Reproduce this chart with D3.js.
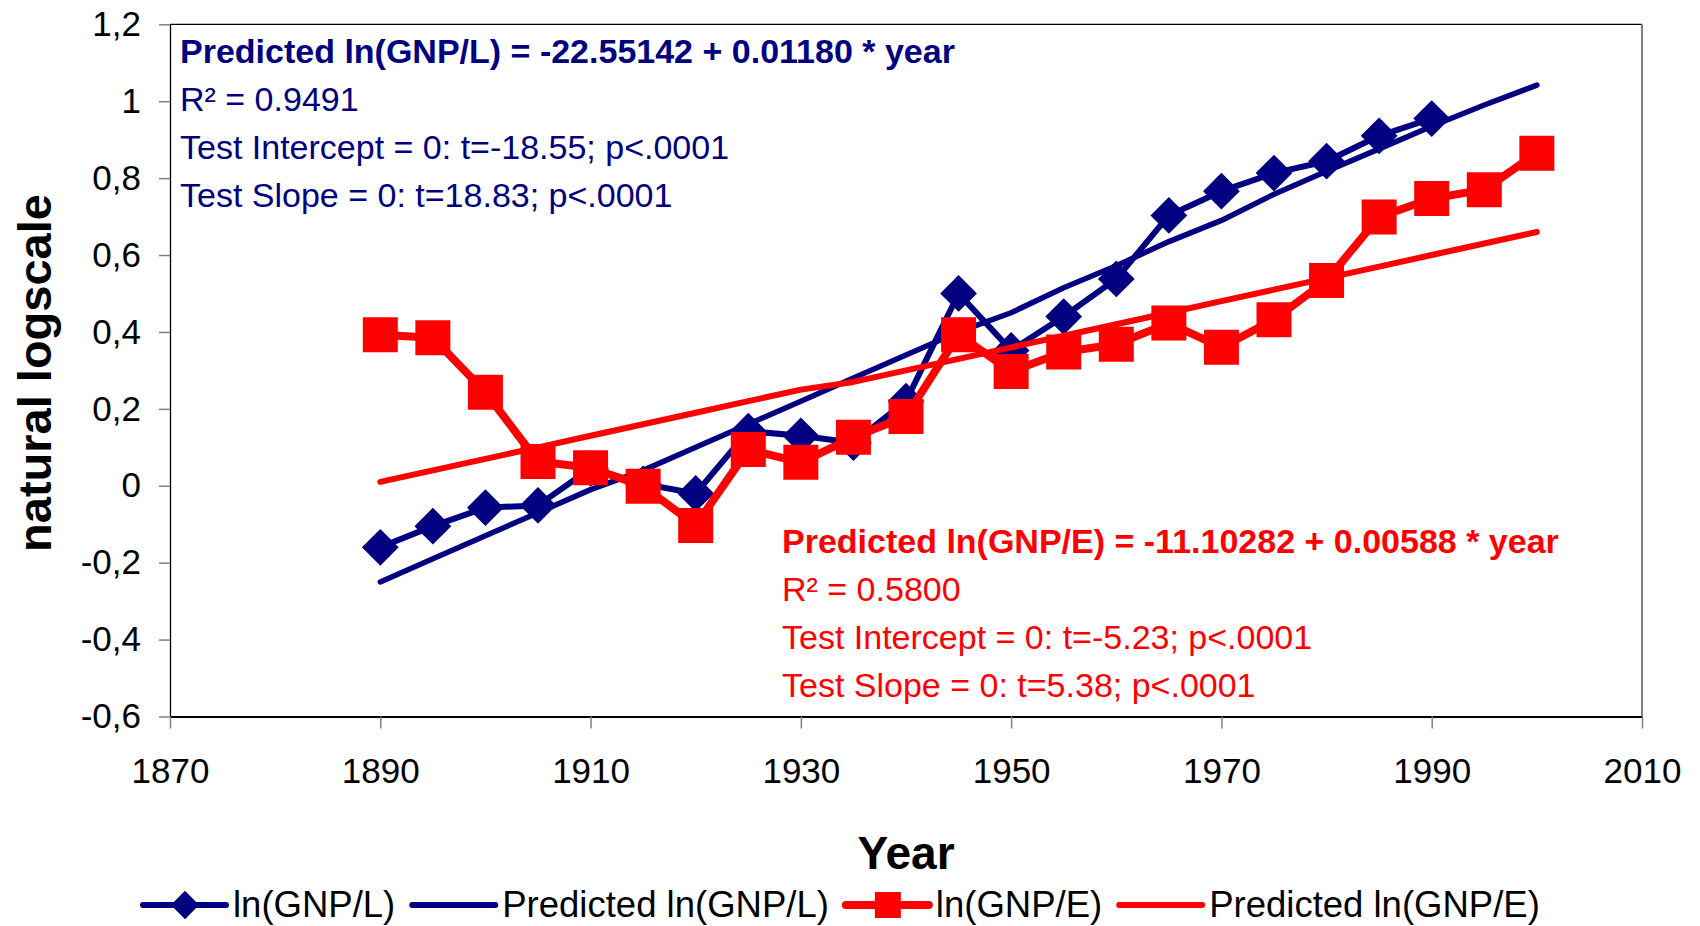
<!DOCTYPE html>
<html>
<head>
<meta charset="utf-8">
<script src="https://cdn.jsdelivr.net/npm/d3@7"></script>
<style>
  body { margin: 0; background: #fff; }
  text { font-family: "Liberation Sans", Arial, sans-serif; }
</style>
</head>
<body>
<div id="chart"></div>
<script>
// data
const years = [1890, 1895, 1900, 1905, 1910, 1915, 1920, 1925, 1930, 1935, 1940, 1945,
               1950, 1955, 1960, 1965, 1970, 1975, 1980, 1985, 1990, 1995, 2000]
const gnpL = [-0.16, -0.105, -0.057, -0.051, 0.045, 0.005, -0.02, 0.142, 0.13, 0.112, 0.22, 0.50,
              0.352, 0.44, 0.538, 0.703, 0.766, 0.813, 0.844, 0.91, 0.955]
const predGnpL = [-0.25, -0.19, -0.13, -0.07, -0.01, 0.04, 0.10, 0.16, 0.22, 0.28, 0.34, 0.40,
                  0.45, 0.515, 0.572, 0.635, 0.69, 0.758, 0.818, 0.876, 0.935, 0.99, 1.042]
const gnpE = [0.393, 0.385, 0.243, 0.063, 0.047, -0.001, -0.103, 0.094, 0.061, 0.126, 0.18, 0.393,
              0.297, 0.348, 0.368, 0.423, 0.36, 0.432, 0.534, 0.699, 0.747, 0.77, 0.865]
const predGnpE = [0.01, 0.04, 0.07, 0.10, 0.13, 0.16, 0.19, 0.22, 0.25, 0.27, 0.30, 0.33,
                  0.36, 0.39, 0.42, 0.45, 0.48, 0.51, 0.54, 0.57, 0.60, 0.63, 0.66]
const xTicks = [1870, 1890, 1910, 1930, 1950, 1970, 1990, 2010]
const yTicks = [-0.6, -0.4, -0.2, 0, 0.2, 0.4, 0.6, 0.8, 1, 1.2]
const legendLabels = ['ln(GNP/L)', 'Predicted ln(GNP/L)', 'ln(GNP/E)', 'Predicted ln(GNP/E)']
const blueNotes = ['Predicted ln(GNP/L) = -22.55142 + 0.01180 * year', 'R² = 0.9491',
                   'Test Intercept = 0: t=-18.55; p<.0001', 'Test Slope = 0: t=18.83; p<.0001']
const redNotes = ['Predicted ln(GNP/E) = -11.10282 + 0.00588 * year', 'R² = 0.5800',
                  'Test Intercept = 0: t=-5.23; p<.0001', 'Test Slope = 0: t=5.38; p<.0001']

const width = 1700
const height = 926
const plot = { left: 170, right: 1642, top: 24.3, bottom: 716.5 }
const blue = '#000080'
const red = '#ff0000'

const svg = d3.select('#chart')
    .append('svg')
    .attr('width', width)
    .attr('height', height)

const xScale = d3.scaleLinear()
    .domain([1870, 2010])
    .range([plot.left, plot.right])

const yScale = d3.scaleLinear()
    .domain([-0.6, 1.2])
    .range([plot.bottom, plot.top])

const commaFmt = d => String(+d.toFixed(1)).replace('.', ',')

// frame: top and right edges
svg.append('line')
    .attr('x1', plot.left).attr('x2', plot.right)
    .attr('y1', plot.top).attr('y2', plot.top)
    .attr('stroke', '#000').attr('stroke-width', 1.2)
svg.append('line')
    .attr('x1', plot.right).attr('x2', plot.right)
    .attr('y1', plot.top).attr('y2', plot.bottom)
    .attr('stroke', '#808080').attr('stroke-width', 2)

// axes
const yAxis = svg.append('g')
    .attr('transform', 'translate(' + plot.left + ',0)')
    .call(d3.axisLeft(yScale).tickValues(yTicks).tickFormat(commaFmt)
        .tickSize(11).tickSizeOuter(0).tickPadding(18))
yAxis.select('.domain').attr('stroke', '#000').attr('stroke-width', 1.3)
yAxis.selectAll('.tick line').attr('stroke', '#808080').attr('stroke-width', 1.5)
yAxis.selectAll('.tick text')
    .attr('font-size', 35).attr('fill', '#000')
    .style('font-family', '"Liberation Sans", Arial, sans-serif')

const xAxis = svg.append('g')
    .attr('transform', 'translate(0,' + plot.bottom + ')')
    .call(d3.axisBottom(xScale).tickValues(xTicks).tickFormat(d3.format('d'))
        .tickSize(12).tickSizeOuter(0).tickPadding(30))
xAxis.select('.domain').attr('stroke', '#000').attr('stroke-width', 2.2)
xAxis.selectAll('.tick line').attr('stroke', '#808080').attr('stroke-width', 1.5)
xAxis.selectAll('.tick text')
    .attr('font-size', 35).attr('fill', '#000')
    .style('font-family', '"Liberation Sans", Arial, sans-serif')

// axis titles
svg.append('text')
    .attr('transform', 'translate(51,373) rotate(-90)')
    .attr('text-anchor', 'middle')
    .attr('font-size', 47).attr('font-weight', 'bold')
    .text('natural logscale')
svg.append('text')
    .attr('x', 906).attr('y', 869)
    .attr('text-anchor', 'middle')
    .attr('font-size', 46).attr('font-weight', 'bold')
    .text('Year')

// series
const toPts = vals => vals.map((v, i) => ({ year: years[i], v: v }))
const line = d3.line()
    .x(d => xScale(d.year))
    .y(d => yScale(d.v))

const diamond = d3.symbol(d3.symbolSquare, 26 * 26)
const square = d3.symbol(d3.symbolSquare, 35 * 35)

// blue observed
svg.append('path')
    .attr('d', line(toPts(gnpL)))
    .attr('fill', 'none').attr('stroke', blue)
    .attr('stroke-width', 6).attr('stroke-linejoin', 'round')
svg.selectAll('.diamond')
    .data(toPts(gnpL))
    .enter()
    .append('path')
    .attr('class', 'diamond')
    .attr('d', diamond)
    .attr('transform', d => 'translate(' + xScale(d.year) + ',' + yScale(d.v) + ') rotate(45)')
    .attr('fill', blue)

// blue predicted
svg.append('path')
    .attr('d', line(toPts(predGnpL)))
    .attr('fill', 'none').attr('stroke', blue)
    .attr('stroke-width', 5.5).attr('stroke-linecap', 'round').attr('stroke-linejoin', 'round')

// red observed
svg.append('path')
    .attr('d', line(toPts(gnpE)))
    .attr('fill', 'none').attr('stroke', red)
    .attr('stroke-width', 8).attr('stroke-linejoin', 'round')
svg.selectAll('.square')
    .data(toPts(gnpE))
    .enter()
    .append('path')
    .attr('class', 'square')
    .attr('d', square)
    .attr('transform', d => 'translate(' + xScale(d.year) + ',' + yScale(d.v) + ')')
    .attr('fill', red)

// red predicted
svg.append('path')
    .attr('d', line(toPts(predGnpE)))
    .attr('fill', 'none').attr('stroke', red)
    .attr('stroke-width', 6).attr('stroke-linecap', 'round').attr('stroke-linejoin', 'round')

// regression notes
const addNotes = (notes, x, y0, color) => {
    notes.forEach((t, i) => {
        svg.append('text')
            .attr('x', x).attr('y', y0 + i * 48)
            .attr('font-size', 34)
            .attr('font-weight', i === 0 ? 'bold' : 'normal')
            .attr('fill', color)
            .text(t)
    })
}
addNotes(blueNotes, 180, 63, blue)
addNotes(redNotes, 782, 553, red)

// legend
const legendColors = [blue, blue, red, red]
const legendWidths = [6, 6, 8, 6]
const legendMarkDiamond = d3.symbol(d3.symbolSquare, 20 * 20)
const legendMarkSquare = d3.symbol(d3.symbolSquare, 26 * 26)
let lx = 143
const ly = 905
legendLabels.forEach((label, i) => {
    svg.append('line')
        .attr('x1', lx).attr('x2', lx + 83)
        .attr('y1', ly).attr('y2', ly)
        .attr('stroke', legendColors[i]).attr('stroke-width', legendWidths[i])
        .attr('stroke-linecap', 'round')
    if (i === 0) {
        svg.append('path').attr('d', legendMarkDiamond)
            .attr('transform', 'translate(' + (lx + 42) + ',' + ly + ') rotate(45)')
            .attr('fill', legendColors[i])
    }
    if (i === 2) {
        svg.append('path').attr('d', legendMarkSquare)
            .attr('transform', 'translate(' + (lx + 42) + ',' + ly + ')')
            .attr('fill', legendColors[i])
    }
    const t = svg.append('text')
        .attr('x', lx + 90).attr('y', ly + 12)
        .attr('font-size', 36.5)
        .attr('fill', '#000')
        .text(label)
    lx = lx + 90 + t.node().getComputedTextLength() + 17
})
</script>
</body>
</html>
